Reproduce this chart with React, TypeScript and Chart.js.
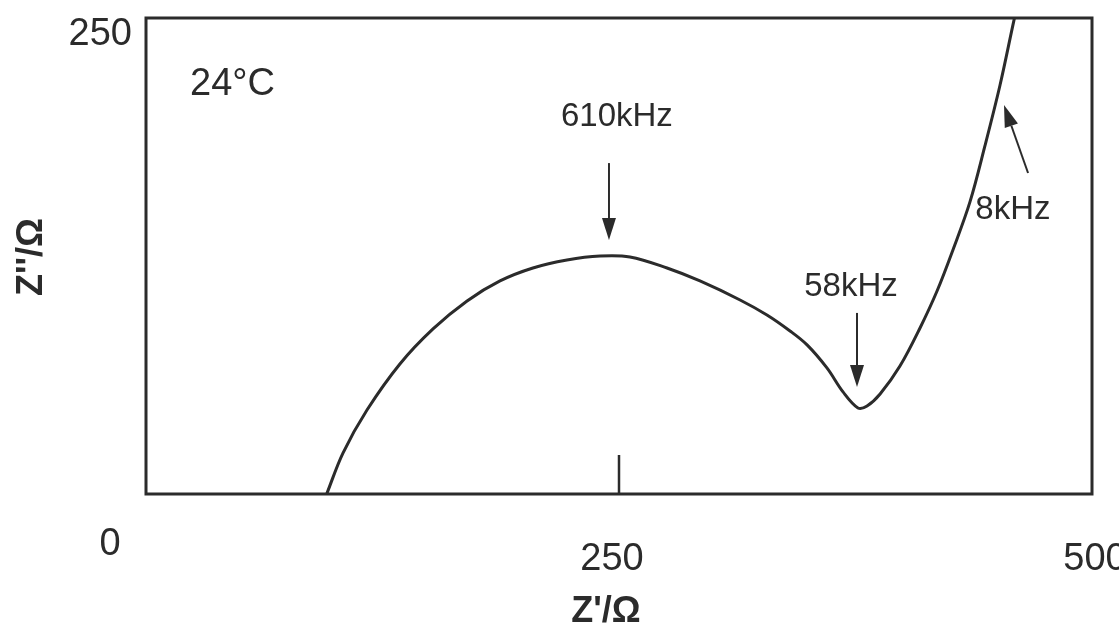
import React, { useEffect, useRef } from "react";
import { Chart, registerables } from "chart.js";

Chart.register(...registerables);

// Impedance spectrum (Nyquist plot), Z' vs Z'' in ohms
const zReal = [
  95.5, 104.1, 116.8, 134.2, 151.7, 169.7, 187.1, 204.5, 222.5, 240.0, 255.8,
  275.4, 292.8, 314.0, 328.2, 340.4, 349.4, 359.9, 368.4, 376.3, 381.1, 388.0,
  398.5, 409.1, 418.1, 426.5, 435.5, 443.4, 451.4, 458.8, 460.4,
];
const zImag = [
  0, 21.5, 44.1, 68.3, 86.7, 101.4, 111.9, 118.7, 122.9, 125.0, 124.5, 118.7,
  111.9, 101.9, 94.0, 85.6, 78.3, 66.2, 53.6, 45.2, 46.2, 52.5, 67.2, 87.2,
  106.6, 128.2, 153.4, 182.8, 214.8, 249.0, 255.6,
];

const xTickValues = [0, 250, 500];
const xTickLabels = ["0", "250", "500"];
const yTickValues = [250];
const yTickLabels = ["250"];
const xTitle = "Z'/Ω";
const yTitle = "Z''/Ω";
const temperatureText = "24°C";

// Frequency markers: label anchor, arrow tail and arrow tip, in data units
const markerTexts = ["610kHz", "58kHz", "8kHz"];
const markerLabelAt = [
  [248.9, 198.0],
  [372.6, 108.7],
  [458.2, 149.2],
];
const markerTail = [
  [244.7, 173.8],
  [375.8, 95.1],
  [466.2, 168.6],
];
const markerTip = [
  [244.7, 133.4],
  [375.8, 56.2],
  [453.5, 204.3],
];

const INK = "#2b2b2b";
const FONT = "'Liberation Sans', Arial, Helvetica, sans-serif";

function drawArrow(
  ctx: CanvasRenderingContext2D,
  x1: number,
  y1: number,
  x2: number,
  y2: number
) {
  const headLen = 22;
  const headHalf = 7;
  const ang = Math.atan2(y2 - y1, x2 - x1);
  const bx = x2 - headLen * Math.cos(ang);
  const by = y2 - headLen * Math.sin(ang);
  ctx.beginPath();
  ctx.moveTo(x1, y1);
  ctx.lineTo(bx, by);
  ctx.lineWidth = 2;
  ctx.stroke();
  ctx.beginPath();
  ctx.moveTo(x2, y2);
  ctx.lineTo(bx + headHalf * Math.sin(ang), by - headHalf * Math.cos(ang));
  ctx.lineTo(bx - headHalf * Math.sin(ang), by + headHalf * Math.cos(ang));
  ctx.closePath();
  ctx.fill();
}

const nyquistDecor = {
  id: "nyquistDecor",
  afterDatasetsDraw(chart: any) {
    const { ctx, chartArea: a } = chart;
    const xs = chart.scales.x;
    const ys = chart.scales.y;
    ctx.save();
    ctx.strokeStyle = INK;
    ctx.fillStyle = INK;

    // plot frame
    ctx.lineWidth = 3;
    ctx.strokeRect(a.left, a.top, a.right - a.left, a.bottom - a.top);

    // inward tick at Z' = 250
    const tx = xs.getPixelForValue(250);
    ctx.lineWidth = 2.5;
    ctx.beginPath();
    ctx.moveTo(tx, a.bottom);
    ctx.lineTo(tx, a.bottom - 39);
    ctx.stroke();

    // x tick labels
    ctx.font = `38px ${FONT}`;
    ctx.textAlign = "center";
    ctx.textBaseline = "middle";
    const xdx = [-36, -7, 3];
    const xdy = [51, 66, 66];
    xTickValues.forEach((v, i) => {
      ctx.fillText(xTickLabels[i], xs.getPixelForValue(v) + xdx[i], a.bottom + xdy[i]);
    });

    // y tick labels
    ctx.textAlign = "right";
    yTickValues.forEach((v, i) => {
      ctx.fillText(yTickLabels[i], a.left - 14, ys.getPixelForValue(v) + 17);
    });

    // axis titles
    ctx.font = `bold 36px ${FONT}`;
    ctx.textAlign = "center";
    ctx.fillText(xTitle, (a.left + a.right) / 2 - 13, a.bottom + 118);
    ctx.save();
    ctx.translate(32, 257);
    ctx.rotate(-Math.PI / 2);
    ctx.fillText(yTitle, 0, 0);
    ctx.restore();

    // temperature
    ctx.font = `38px ${FONT}`;
    ctx.textAlign = "left";
    ctx.fillText(temperatureText, a.left + 44, 85);

    // frequency markers
    ctx.font = `33px ${FONT}`;
    ctx.textAlign = "center";
    markerTexts.forEach((t, i) => {
      ctx.fillText(
        t,
        xs.getPixelForValue(markerLabelAt[i][0]),
        ys.getPixelForValue(markerLabelAt[i][1])
      );
      drawArrow(
        ctx,
        xs.getPixelForValue(markerTail[i][0]),
        ys.getPixelForValue(markerTail[i][1]),
        xs.getPixelForValue(markerTip[i][0]),
        ys.getPixelForValue(markerTip[i][1])
      );
    });

    ctx.restore();
  },
};

export default function App() {
  const canvasRef = useRef<HTMLCanvasElement | null>(null);

  useEffect(() => {
    document.body.style.margin = "0";
    const canvas = canvasRef.current;
    if (!canvas) return;
    const points = zReal.map((x, i) => ({ x, y: zImag[i] }));
    const chart = new Chart(canvas, {
      type: "scatter",
      data: {
        datasets: [
          {
            data: points,
            showLine: true,
            borderColor: INK,
            borderWidth: 3,
            pointRadius: 0,
            tension: 0.35,
            clip: 0,
          } as any,
        ],
      },
      options: {
        responsive: false,
        animation: false,
        layout: { padding: { left: 146, right: 27, top: 18, bottom: 137 } },
        plugins: {
          legend: { display: false },
          tooltip: { enabled: false },
        },
        scales: {
          x: { type: "linear", min: 0, max: 500, display: false },
          y: { type: "linear", min: 0, max: 250, display: false },
        },
      },
      plugins: [nyquistDecor],
    });
    return () => chart.destroy();
  }, []);

  return (
    <div style={{ width: 1119, height: 631, background: "#fff" }}>
      <canvas ref={canvasRef} width={1119} height={631} />
    </div>
  );
}
